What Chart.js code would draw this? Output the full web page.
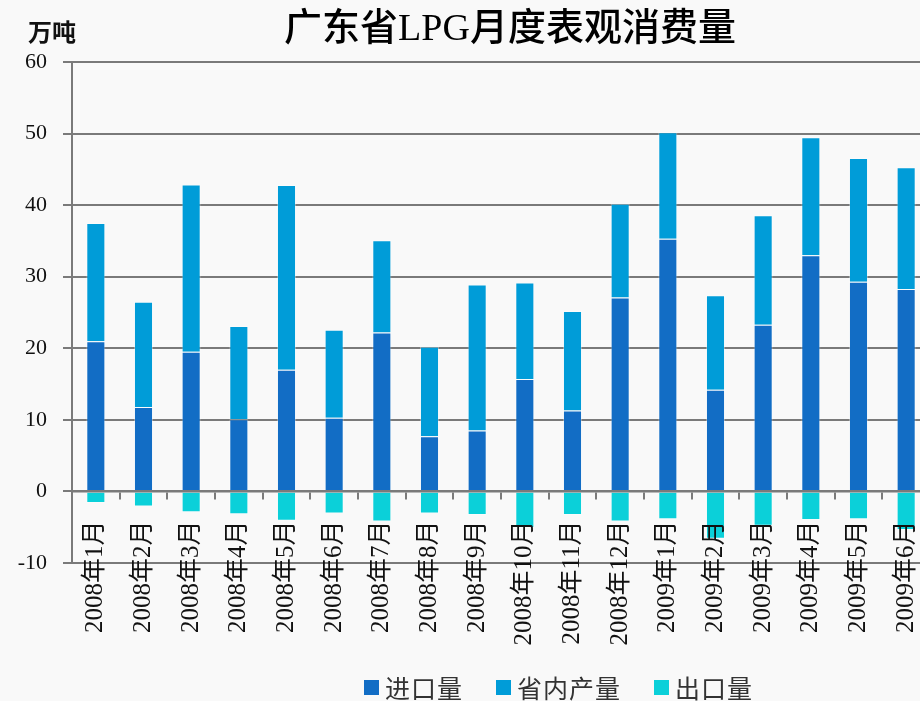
<!DOCTYPE html>
<html>
<head>
<meta charset="utf-8">
<script src="https://cdn.jsdelivr.net/npm/chart.js@4.4.1/dist/chart.umd.min.js"></script>
<style>
    html, body { margin: 0; padding: 0; background: #f9f9f9; }
    .wrap { position: relative; width: 920px; height: 701px; overflow: hidden; }
    .lpg-chart { position: absolute; left: 0; top: 0; }
    .legend { position: absolute; left: 364px; top: 672px; display: flex; align-items: center;
              font: 25px "Noto Sans CJK SC", sans-serif; line-height: 30px; color: #333; letter-spacing: 1px; }
    .legend .item { display: flex; align-items: center; margin-right: 33px; }
    .legend i { display: inline-block; width: 15px; height: 15px; margin-right: 6px; }
</style>
</head>
<body>
<div class="wrap">
    <canvas class="lpg-chart" width="1020" height="701"></canvas>
    <div class="legend"></div>
</div>
<script>
const months = ['2008年1月', '2008年2月', '2008年3月', '2008年4月', '2008年5月', '2008年6月',
    '2008年7月', '2008年8月', '2008年9月', '2008年10月', '2008年11月', '2008年12月',
    '2009年1月', '2009年2月', '2009年3月', '2009年4月', '2009年5月', '2009年6月'];

// 万吨
const imports = [21.0, 11.8, 19.5, 10.1, 17.0, 10.3, 22.2, 7.7, 8.5, 15.7, 11.3, 27.1, 35.3, 14.2, 23.3, 33.0, 29.3, 28.3];
const provincial = [16.5, 14.7, 23.4, 13.0, 25.8, 12.3, 12.9, 12.5, 20.4, 13.5, 13.9, 13.1, 14.9, 13.2, 15.3, 16.5, 17.3, 17.0];
const exportVol = [-1.6, -2.1, -2.9, -3.2, -4.1, -3.1, -4.2, -3.1, -3.3, -5.1, -3.3, -4.2, -3.9, -6.6, -4.8, -4.0, -3.9, -5.4];

const yMin = -10;
const yMax = 60;
const yStep = 10;

const ctx = document.querySelector('.lpg-chart');
const gridGray = '#7a7a7a';

// title and unit are drawn by hand so the title can sit off-centre like the original
const headings = {
    id: 'headings',
    afterDraw(chart) {
        const c = chart.ctx;
        const area = chart.chartArea;
        c.save();
        c.fillStyle = '#000';
        c.textAlign = 'center';
        c.textBaseline = 'middle';
        c.font = '500 38px "Liberation Serif", "Noto Sans CJK SC"';
        c.fillText('广东省LPG月度表观消费量', chart.width / 2, 30);
        c.fillStyle = '#111';
        c.font = 'bold 24px "Noto Sans CJK SC"';
        c.fillText('万吨', area.left - 20, area.top - 30);
        c.restore();
    }
};

const chart = new Chart(ctx, {
    type: 'bar',
    data: {
        labels: months,
        datasets: [
            { label: '进口量', data: imports, backgroundColor: '#126dc5' },
            { label: '省内产量', data: provincial, backgroundColor: '#009cd8' },
            { label: '出口量', data: exportVol, backgroundColor: '#0bd0d9' }
        ]
    },
    options: {
        responsive: false,
        animation: false,
        layout: { padding: { top: 62, right: 90, bottom: 138 } },
        datasets: {
            bar: {
                barPercentage: 0.4,
                categoryPercentage: 1,
                borderWidth: 1,
                borderColor: 'rgba(255,255,255,0.35)'
            }
        },
        scales: {
            x: {
                stacked: true,
                position: { y: 0 },
                grid: {
                    drawOnChartArea: false,
                    tickLength: 7,
                    color: gridGray,
                    lineWidth: 2
                },
                border: { color: gridGray, width: 2.5, z: 1 },
                ticks: {
                    minRotation: 90,
                    maxRotation: 90,
                    autoSkip: false,
                    padding: 22,
                    color: '#111',
                    z: 1,
                    font: { family: '"Liberation Serif", "Noto Sans CJK SC"', size: 25 }
                }
            },
            y: {
                stacked: true,
                min: yMin,
                max: yMax,
                afterFit: (scale) => { scale.width = 72; },
                grid: { tickLength: 9, color: gridGray, lineWidth: 2 },
                border: { color: gridGray, width: 2 },
                ticks: {
                    stepSize: yStep,
                    padding: 16,
                    color: '#111',
                    font: { family: '"Liberation Serif"', size: 22 }
                }
            }
        },
        plugins: {
            legend: { display: false },
            tooltip: { enabled: false },
            title: { display: false }
        }
    },
    plugins: [headings]
});

const legendBox = document.querySelector('.legend');
chart.data.datasets.forEach(ds => {
    const item = document.createElement('span');
    item.className = 'item';
    item.innerHTML = `<i style="background:${ds.backgroundColor}"></i>${ds.label}`;
    legendBox.appendChild(item);
});
</script>
</body>
</html>
